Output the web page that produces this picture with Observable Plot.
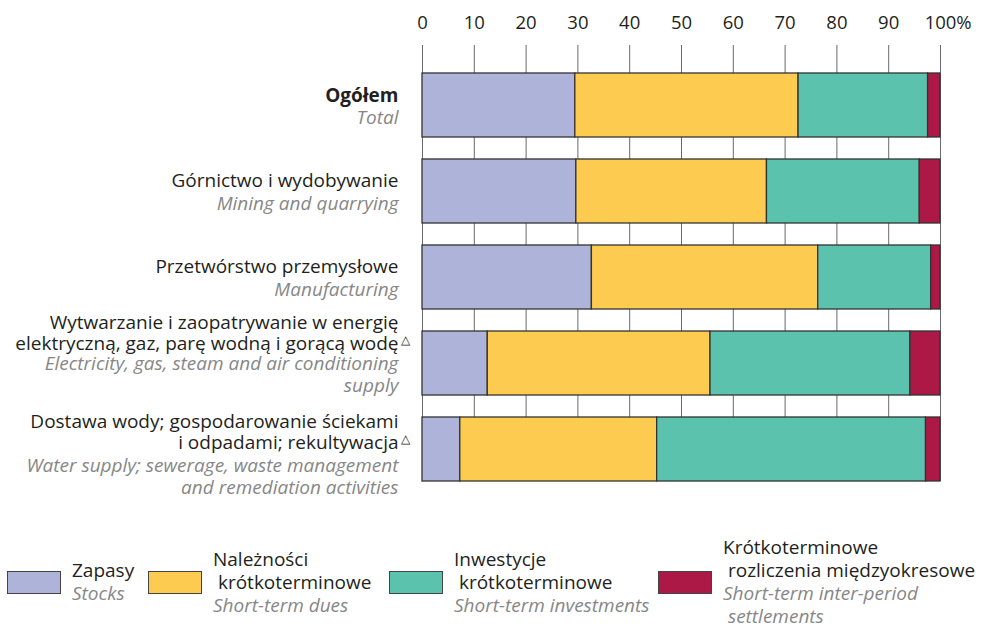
<!DOCTYPE html>
<html>
<head>
<meta charset="utf-8">
<script src="https://cdn.jsdelivr.net/npm/d3@7"></script>
<script src="https://cdn.jsdelivr.net/npm/@observablehq/plot@0.6"></script>
<style>
  html, body { margin: 0; padding: 0; background: #fff; }
  #chart { width: 982px; font-family: "Open Sans", sans-serif; }
  #legend {
    display: grid;
    grid-template-columns: 141px 241px 269px auto;
    align-items: center;
    padding-left: 7px;
    margin-top: 36px;
    font-family: "Open Sans", sans-serif;
    font-size: 19px;
    line-height: 23px;
  }
  .item { display: flex; align-items: center; }
  .sw { width: 52px; height: 21px; border: 1.3px solid #444; margin-right: 11px; flex: none; }
  .txt { white-space: pre; }
  .pl { color: #231f20; }
  .en { color: #878787; font-style: italic; }
</style>
</head>
<body>
<div id="chart"></div>
<script>
// ---- data ----
const categoriesPl = [
  "Ogółem",
  "Górnictwo i wydobywanie",
  "Przetwórstwo przemysłowe",
  "Wytwarzanie i zaopatrywanie w energię\nelektryczną, gaz, parę wodną i gorącą wodę△",
  "Dostawa wody; gospodarowanie ściekami\ni odpadami; rekultywacja△"
];
const categoriesEn = [
  "Total",
  "Mining and quarrying",
  "Manufacturing",
  "Electricity, gas, steam and air conditioning\nsupply",
  "Water supply; sewerage, waste management\nand remediation activities"
];
const seriesPl = ["Zapasy", "Należności\n krótkoterminowe", "Inwestycje\n krótkoterminowe", "Krótkoterminowe\n rozliczenia międzyokresowe"];
const seriesEn = ["Stocks", "Short-term dues", "Short-term investments", "Short-term inter-period\n settlements"];
const stocks      = [29.5, 29.7, 32.7, 12.6, 7.3];
const dues        = [43.1, 36.8, 43.7, 43.0, 38.0];
const investments = [25.0, 29.5, 21.8, 38.6, 51.9];
const settlements = [2.4, 4.0, 1.8, 5.8, 2.8];
const xTicks = [0, 10, 20, 30, 40, 50, 60, 70, 80, 90, 100];

const colors = ["#adb3d9", "#fdcb50", "#5bc3ad", "#ad1947"];
const seriesValues = [stocks, dues, investments, settlements];

// ---- build tables ----
const rows = [];
seriesEn.forEach((s, si) => {
  categoriesEn.forEach((c, ci) => {
    rows.push({cat: c, series: s, value: seriesValues[si][ci]});
  });
});
const labels = categoriesEn.map((c, i) => ({cat: c, idx: i, pl: categoriesPl[i], en: c}));

const FONT = "Open Sans, sans-serif";

const plLabel = (filter, dy, extra = {}) => Plot.text(labels, {
  filter, y: "cat", text: "pl", frameAnchor: "left", textAnchor: "end",
  dx: -24, dy, lineAnchor: "bottom", lineHeight: 1.08,
  fontSize: 19, fill: "#231f20", ...extra
});
const enLabel = (filter, dy) => Plot.text(labels, {
  filter, y: "cat", text: "en", frameAnchor: "left", textAnchor: "end",
  dx: -24, dy, lineAnchor: "top", lineHeight: 1.2,
  fontSize: 19, fontStyle: "italic", fill: "#878787"
});

const plot = Plot.plot({
  width: 982,
  height: 500,
  marginLeft: 422,
  marginRight: 42,
  marginTop: 45,
  marginBottom: 19,
  style: {fontFamily: FONT, fontSize: "19px", color: "#231f20", background: "white"},
  x: {domain: [0, 100], axis: null},
  y: {type: "band", domain: categoriesEn, paddingInner: 0.26, paddingOuter: 0.15, align: 1, axis: null},
  color: {domain: seriesEn, range: colors},
  marks: [
    Plot.ruleX(xTicks, {x: d => d, stroke: "#6a6a6a", strokeWidth: 1}),
    Plot.axisX(xTicks, {
      anchor: "top",
      label: null,
      tickSize: 0,
      tickPadding: 17,
      fontSize: 18.5,
      fill: "#231f20",
      tickFormat: d => d === 100 ? "100%" : String(d)
    }),
    Plot.barX(rows, Plot.stackX({
      x: "value",
      y: "cat",
      fill: "series",
      z: "series",
      order: seriesEn,
      stroke: "#333",
      strokeWidth: 1.3
    })),
    // Polish names (first row in bold)
    plLabel(d => d.idx === 0, -4, {fontWeight: "bold"}),
    plLabel(d => d.idx === 1 || d.idx === 2, -5),
    plLabel(d => d.idx === 3, -14),
    plLabel(d => d.idx === 4, -1),
    // English names
    enLabel(d => d.idx <= 2, 2.5),
    enLabel(d => d.idx === 3, -10),
    enLabel(d => d.idx === 4, 5.8)
  ]
});

document.getElementById("chart").appendChild(plot);

// superscript triangles hanging after the line end
d3.select(plot).selectAll("tspan").each(function () {
  const s = this.textContent;
  if (s.endsWith("△")) {
    this.textContent = s.slice(0, -1);
    const tri = document.createElementNS("http://www.w3.org/2000/svg", "tspan");
    tri.textContent = "△";
    tri.setAttribute("x", 2);
    tri.setAttribute("text-anchor", "start");
    tri.setAttribute("font-size", 12);
    tri.setAttribute("dy", "-0.45em");
    this.parentNode.insertBefore(tri, this.nextSibling);
  }
});

// "100%" : keep "100" centred on its gridline, "%" hanging to the right
d3.select(plot).selectAll("text").filter(function () { return this.textContent === "100%"; }).each(function () {
  this.textContent = "100";
  const w = this.getComputedTextLength();
  this.textContent = "100%";
  this.setAttribute("text-anchor", "start");
  this.setAttribute("dx", -w / 2);
});

// ---- legend ----
const legend = document.createElement("div");
legend.id = "legend";
seriesPl.forEach((s, i) => {
  const item = document.createElement("div");
  item.className = "item";
  const sw = document.createElement("div");
  sw.className = "sw";
  sw.style.background = colors[i];
  const txt = document.createElement("div");
  txt.className = "txt";
  const pl = document.createElement("div");
  pl.className = "pl";
  pl.textContent = s;
  const en = document.createElement("div");
  en.className = "en";
  en.textContent = seriesEn[i];
  txt.appendChild(pl);
  txt.appendChild(en);
  item.appendChild(sw);
  item.appendChild(txt);
  legend.appendChild(item);
});
document.getElementById("chart").appendChild(legend);
</script>
</body>
</html>
